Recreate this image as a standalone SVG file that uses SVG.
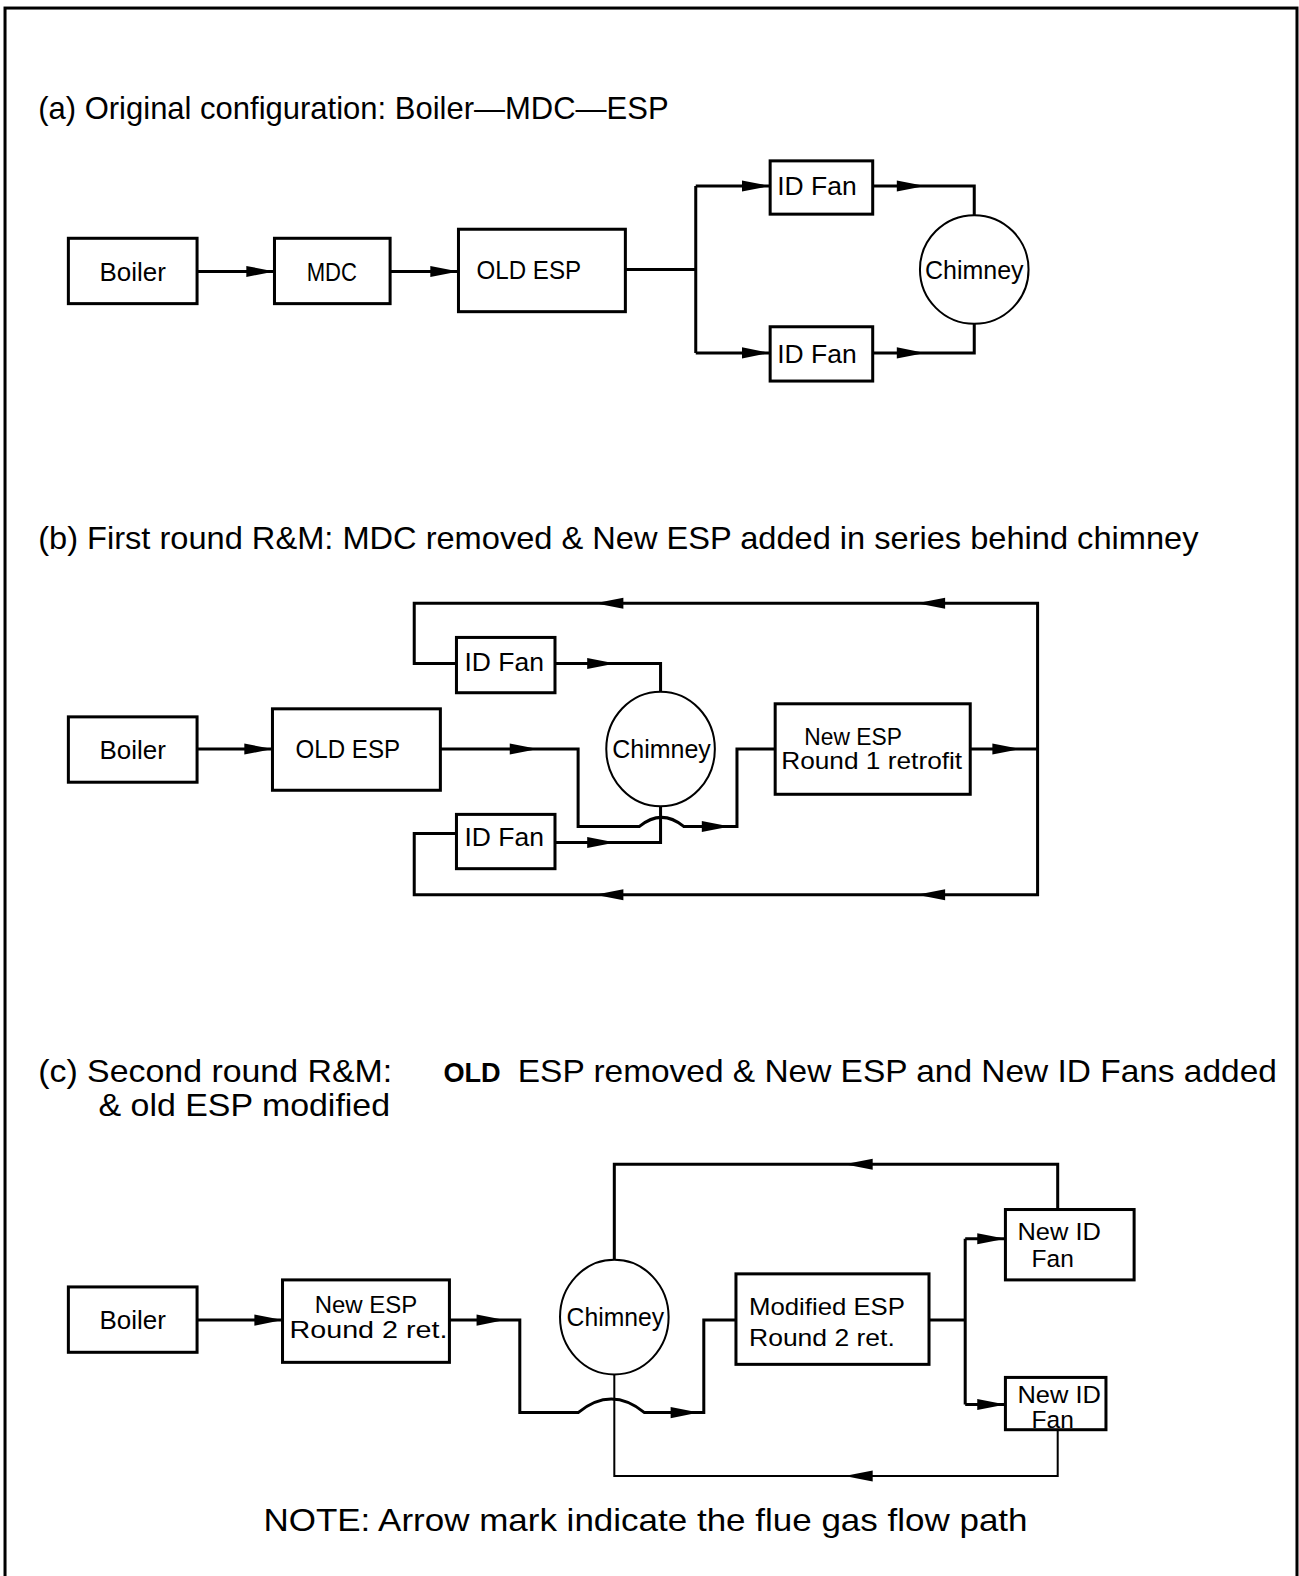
<svg xmlns="http://www.w3.org/2000/svg" xmlns:xlink="http://www.w3.org/1999/xlink" width="1299" height="1576" viewBox="0 0 1299 1576">
<style>
.bx{fill:#fff;stroke:#000;stroke-width:3}
.ch{fill:#fff;stroke:#000;stroke-width:2}
.ln{fill:none;stroke:#000;stroke-width:3;stroke-linejoin:miter}
.thin{fill:none;stroke:#000;stroke-width:2}
.t{font-family:"Liberation Sans",Arial,sans-serif;fill:#000}
.ttl{font-size:32px}
.lb{font-size:25px;text-anchor:middle}
.lb2{font-size:24px}
.b{font-weight:bold}
</style>
<defs>
<path id="ar" d="M0,0 L-28,-5.5 L-28,5.5 Z" fill="#000"/>
<path id="al" d="M0,0 L28,-5.5 L28,5.5 Z" fill="#000"/>
</defs>
<rect width="1299" height="1576" fill="#fff"/>
<g transform="scale(1.00542)">
<rect x="5" y="8" width="1285" height="1600" fill="none" stroke="#000" stroke-width="3"/>

<g id="titles">
<text class="t ttl" x="38" y="118" textLength="627" lengthAdjust="spacingAndGlyphs">(a) Original configuration: Boiler—MDC—ESP</text>
<text class="t ttl" x="38" y="546" textLength="1154" lengthAdjust="spacingAndGlyphs">(b) First round R&amp;M:  MDC removed &amp; New ESP added in series behind chimney</text>
<text class="t ttl" x="38" y="1076" textLength="352" lengthAdjust="spacingAndGlyphs">(c) Second round R&amp;M:</text>
<text class="t b" x="441" y="1076" font-size="28" textLength="57" lengthAdjust="spacingAndGlyphs">OLD</text>
<text class="t ttl" x="515" y="1076" textLength="755" lengthAdjust="spacingAndGlyphs">ESP removed &amp; New ESP and New ID Fans added</text>
<text class="t ttl" x="98" y="1110" textLength="290" lengthAdjust="spacingAndGlyphs">&amp; old ESP modified</text>
<text class="t ttl" x="262" y="1523" textLength="760" lengthAdjust="spacingAndGlyphs">NOTE:  Arrow mark indicate the flue gas flow path</text>
</g>

<g id="connectors">
<!-- (a) -->
<path class="ln" d="M196,270 H273"/><use href="#ar" x="273" y="270"/>
<path class="ln" d="M388,270 H456"/><use href="#ar" x="456" y="270"/>
<path class="ln" d="M622,268 H692 M692,185 V351 M692,185 H766 M692,351 H766"/>
<use href="#ar" x="766" y="185"/><use href="#ar" x="766" y="351"/>
<path class="ln" d="M868,185 H969 V215 M868,351 H969 V322"/>
<use href="#ar" x="920" y="185"/><use href="#ar" x="920" y="351"/>
<!-- (b) -->
<path class="ln" d="M196,745 H271"/><use href="#ar" x="271" y="745"/>
<path class="ln" d="M438,745 H575 V822 H636 Q658,804 680,822 H733 V745 H771"/>
<use href="#ar" x="535" y="745"/><use href="#ar" x="726" y="822"/>
<path class="ln" d="M552,660 H657 V689"/><use href="#ar" x="612" y="660"/>
<path class="ln" d="M657,802 V838 H552"/><use href="#ar" x="612" y="838"/>
<path class="ln" d="M965,745 H1032"/><use href="#ar" x="1015" y="745"/>
<path class="ln" d="M454,660 H412 V600 H1032 V890 H412 V829 H454"/>
<use href="#al" x="592" y="600"/><use href="#al" x="912" y="600"/>
<use href="#al" x="592" y="890"/><use href="#al" x="912" y="890"/>
<!-- (c) -->
<path class="ln" d="M196,1313 H281"/><use href="#ar" x="281" y="1313"/>
<path class="ln" d="M447,1313 H517 V1405 H575 Q608,1378 641,1405 H700 V1313 H732"/>
<use href="#ar" x="502" y="1313"/><use href="#ar" x="695" y="1405"/>
<path class="ln" d="M611,1253 V1158 H1052 V1203"/><use href="#al" x="840" y="1158"/>
<path class="thin" d="M611,1367 V1468 H1052 V1422"/><use href="#al" x="840" y="1468"/>
<path class="ln" d="M924,1313 H960 M960,1232 V1397 M960,1232 H1000 M960,1397 H1000"/>
<use href="#ar" x="1000" y="1232"/><use href="#ar" x="1000" y="1397"/>
</g>

<!-- (a) nodes -->
<g id="a-boiler"><rect class="bx" x="68" y="237" width="128" height="65"/><text class="t lb" x="132" y="279" textLength="66" lengthAdjust="spacingAndGlyphs">Boiler</text></g>
<g id="a-mdc"><rect class="bx" x="273" y="237" width="115" height="65"/><text class="t lb" x="330" y="279" textLength="50" lengthAdjust="spacingAndGlyphs">MDC</text></g>
<g id="a-oldesp"><rect class="bx" x="456" y="228" width="166" height="82"/><text class="t" font-size="25" x="474" y="277" textLength="104" lengthAdjust="spacingAndGlyphs">OLD ESP</text></g>
<g id="a-idfan1"><rect class="bx" x="766" y="160" width="102" height="53"/><text class="t" font-size="25" x="773" y="194" textLength="79" lengthAdjust="spacingAndGlyphs">ID Fan</text></g>
<g id="a-idfan2"><rect class="bx" x="766" y="325" width="102" height="54"/><text class="t" font-size="25" x="773" y="361" textLength="79" lengthAdjust="spacingAndGlyphs">ID Fan</text></g>
<g id="a-chimney"><circle class="ch" cx="969" cy="268" r="54"/><text class="t lb" x="969" y="277" textLength="98" lengthAdjust="spacingAndGlyphs">Chimney</text></g>

<!-- (b) nodes -->
<g id="b-boiler"><rect class="bx" x="68" y="713" width="128" height="65"/><text class="t lb" x="132" y="755" textLength="66" lengthAdjust="spacingAndGlyphs">Boiler</text></g>
<g id="b-oldesp"><rect class="bx" x="271" y="705" width="167" height="81"/><text class="t" font-size="25" x="294" y="754" textLength="104" lengthAdjust="spacingAndGlyphs">OLD ESP</text></g>
<g id="b-idfan1"><rect class="bx" x="454" y="634" width="98" height="55"/><text class="t" font-size="25" x="462" y="667" textLength="79" lengthAdjust="spacingAndGlyphs">ID Fan</text></g>
<g id="b-idfan2"><rect class="bx" x="454" y="810" width="98" height="54"/><text class="t" font-size="25" x="462" y="841" textLength="79" lengthAdjust="spacingAndGlyphs">ID Fan</text></g>
<g id="b-chimney"><ellipse class="ch" cx="657" cy="745" rx="54" ry="57"/><text class="t lb" x="658" y="754" textLength="98" lengthAdjust="spacingAndGlyphs">Chimney</text></g>
<g id="b-newesp"><rect class="bx" x="771" y="700" width="194" height="90"/><text class="t lb2" x="800" y="741" textLength="97" lengthAdjust="spacingAndGlyphs">New ESP</text><text class="t lb2" x="777" y="765" textLength="180" lengthAdjust="spacingAndGlyphs">Round 1 retrofit</text></g>

<!-- (c) nodes -->
<g id="c-boiler"><rect class="bx" x="68" y="1280" width="128" height="65"/><text class="t lb" x="132" y="1322" textLength="66" lengthAdjust="spacingAndGlyphs">Boiler</text></g>
<g id="c-newesp"><rect class="bx" x="281" y="1273" width="166" height="82"/><text class="t lb2" x="313" y="1306" textLength="102" lengthAdjust="spacingAndGlyphs">New ESP</text><text class="t lb2" x="288" y="1331" textLength="157" lengthAdjust="spacingAndGlyphs">Round 2 ret.</text></g>
<g id="c-chimney"><ellipse class="ch" cx="611" cy="1310" rx="54" ry="57"/><text class="t lb" x="612" y="1319" textLength="97" lengthAdjust="spacingAndGlyphs">Chimney</text></g>
<g id="c-modesp"><rect class="bx" x="732" y="1267" width="192" height="90"/><text class="t lb2" x="745" y="1308" textLength="155" lengthAdjust="spacingAndGlyphs">Modified ESP</text><text class="t lb2" x="745" y="1339" textLength="145" lengthAdjust="spacingAndGlyphs">Round 2 ret.</text></g>
<g id="c-newidfan1"><rect class="bx" x="1000" y="1203" width="128" height="70"/><text class="t lb2" x="1012" y="1233" textLength="83" lengthAdjust="spacingAndGlyphs">New ID</text><text class="t lb2" x="1026" y="1260" textLength="42" lengthAdjust="spacingAndGlyphs">Fan</text></g>
<g id="c-newidfan2"><rect class="bx" x="1000" y="1370" width="100" height="52"/><text class="t lb2" x="1012" y="1395" textLength="83" lengthAdjust="spacingAndGlyphs">New ID</text><text class="t lb2" x="1026" y="1420" textLength="42" lengthAdjust="spacingAndGlyphs">Fan</text></g>
</g>
</svg>
